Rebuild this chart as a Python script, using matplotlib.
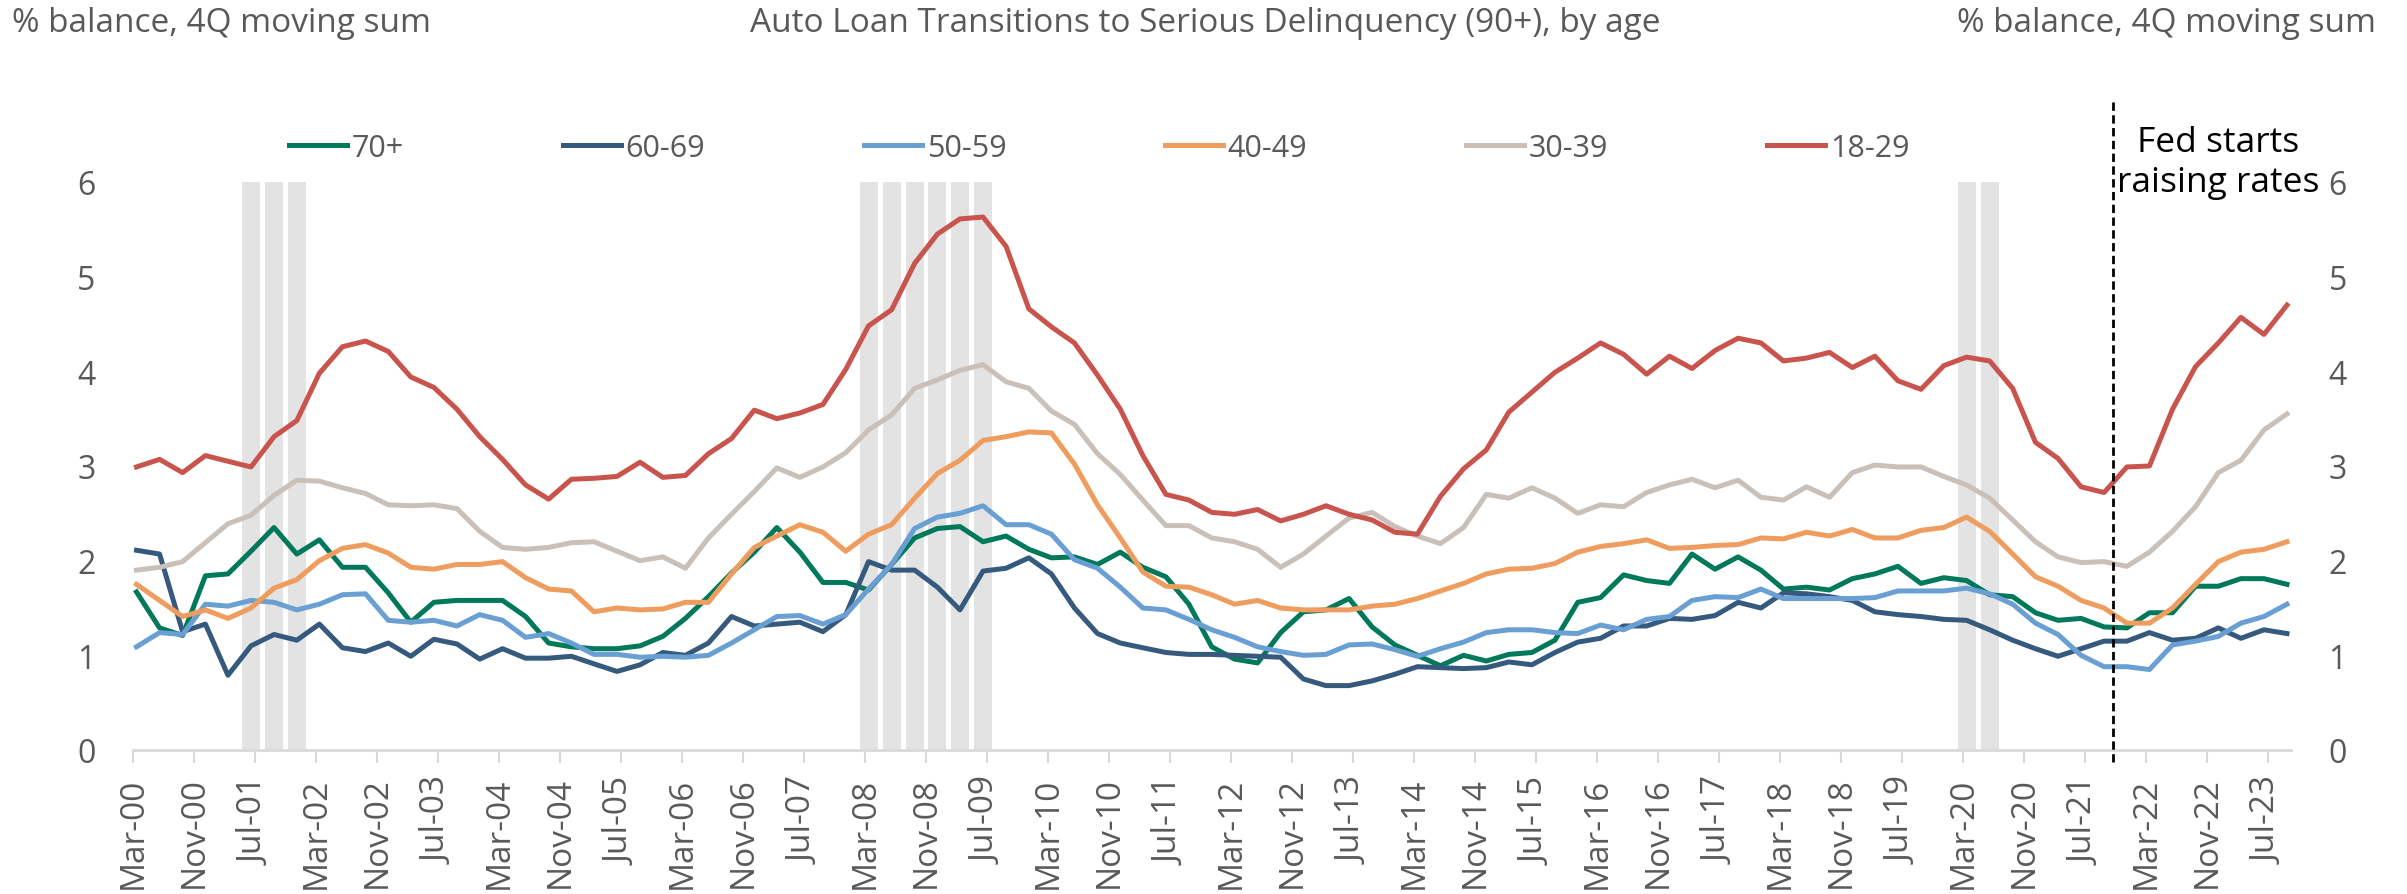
import matplotlib.pyplot as plt
import matplotlib.dates as mdates
import pandas as pd

plt.rcParams['font.family'] = ['Open Sans', 'DejaVu Sans']

# Quarterly data, Q1 2000 .. Q3 2023, % of balance (4Q moving sum)
quarters = pd.date_range('2000-03-01', '2023-09-01', freq='3MS') + pd.Timedelta(days=14)

age_70_plus = [1.67, 1.29, 1.21, 1.84, 1.86, 2.10, 2.35, 2.07, 2.22, 1.93, 1.93, 1.66, 1.35, 1.56, 1.58, 1.58,
               1.58, 1.41, 1.13, 1.09, 1.07, 1.07, 1.10, 1.20, 1.39, 1.62, 1.87, 2.09, 2.35, 2.09, 1.77, 1.77,
               1.69, 1.96, 2.24, 2.34, 2.36, 2.20, 2.26, 2.12, 2.03, 2.04, 1.96, 2.09, 1.93, 1.83, 1.54, 1.09,
               0.96, 0.92, 1.24, 1.46, 1.48, 1.60, 1.30, 1.11, 1.00, 0.89, 1.00, 0.94, 1.01, 1.03, 1.16, 1.56,
               1.61, 1.85, 1.79, 1.76, 2.07, 1.91, 2.04, 1.90, 1.70, 1.72, 1.69, 1.81, 1.86, 1.94, 1.76, 1.82,
               1.79, 1.64, 1.62, 1.45, 1.37, 1.39, 1.30, 1.29, 1.45, 1.45, 1.73, 1.73, 1.81, 1.81, 1.75]
age_60_69 = [2.11, 2.07, 1.25, 1.33, 0.79, 1.10, 1.22, 1.16, 1.33, 1.08, 1.04, 1.13, 0.99, 1.17, 1.12, 0.96,
             1.07, 0.97, 0.97, 0.99, 0.91, 0.83, 0.90, 1.03, 1.00, 1.13, 1.41, 1.31, 1.33, 1.35, 1.25, 1.43,
             1.99, 1.90, 1.90, 1.72, 1.48, 1.89, 1.92, 2.03, 1.86, 1.50, 1.23, 1.13, 1.08, 1.03, 1.01, 1.01,
             1.00, 0.99, 0.98, 0.75, 0.68, 0.68, 0.73, 0.80, 0.88, 0.87, 0.86, 0.87, 0.93, 0.90, 1.03, 1.14,
             1.18, 1.31, 1.31, 1.39, 1.38, 1.42, 1.56, 1.50, 1.66, 1.65, 1.62, 1.58, 1.46, 1.43, 1.41, 1.38,
             1.37, 1.27, 1.16, 1.07, 0.99, 1.07, 1.15, 1.15, 1.24, 1.16, 1.18, 1.29, 1.18, 1.27, 1.23]
age_50_59 = [1.09, 1.24, 1.22, 1.54, 1.52, 1.58, 1.56, 1.48, 1.54, 1.64, 1.65, 1.37, 1.35, 1.37, 1.31, 1.43,
             1.37, 1.19, 1.23, 1.13, 1.01, 1.01, 0.98, 0.99, 0.98, 1.00, 1.13, 1.27, 1.41, 1.42, 1.33, 1.43,
             1.70, 1.96, 2.34, 2.46, 2.50, 2.58, 2.38, 2.38, 2.28, 2.01, 1.92, 1.72, 1.50, 1.48, 1.38, 1.27,
             1.19, 1.09, 1.04, 1.00, 1.01, 1.11, 1.12, 1.06, 0.99, 1.07, 1.14, 1.24, 1.27, 1.27, 1.24, 1.23,
             1.32, 1.27, 1.38, 1.41, 1.58, 1.62, 1.61, 1.70, 1.60, 1.60, 1.60, 1.60, 1.61, 1.68, 1.68, 1.68,
             1.71, 1.65, 1.54, 1.34, 1.22, 1.00, 0.88, 0.88, 0.85, 1.11, 1.15, 1.20, 1.34, 1.41, 1.54]
age_40_49 = [1.75, 1.58, 1.41, 1.48, 1.39, 1.50, 1.71, 1.80, 2.00, 2.13, 2.17, 2.08, 1.93, 1.91, 1.96, 1.96,
             1.99, 1.82, 1.70, 1.68, 1.46, 1.50, 1.48, 1.49, 1.56, 1.56, 1.86, 2.14, 2.26, 2.38, 2.30, 2.10,
             2.28, 2.38, 2.66, 2.92, 3.06, 3.27, 3.31, 3.36, 3.35, 3.02, 2.59, 2.24, 1.88, 1.73, 1.72, 1.64,
             1.54, 1.58, 1.50, 1.48, 1.48, 1.48, 1.52, 1.54, 1.60, 1.68, 1.76, 1.86, 1.91, 1.92, 1.97, 2.09,
             2.15, 2.18, 2.22, 2.13, 2.14, 2.16, 2.17, 2.24, 2.23, 2.30, 2.26, 2.33, 2.24, 2.24, 2.32, 2.35,
             2.46, 2.31, 2.07, 1.83, 1.73, 1.58, 1.50, 1.34, 1.34, 1.50, 1.75, 1.99, 2.09, 2.12, 2.20]
age_30_39 = [1.90, 1.93, 1.99, 2.19, 2.39, 2.48, 2.69, 2.85, 2.84, 2.77, 2.71, 2.59, 2.58, 2.59, 2.55, 2.31,
             2.14, 2.12, 2.14, 2.19, 2.20, 2.10, 2.00, 2.04, 1.92, 2.24, 2.49, 2.73, 2.98, 2.88, 2.99, 3.14,
             3.38, 3.54, 3.82, 3.91, 4.01, 4.07, 3.89, 3.82, 3.58, 3.44, 3.13, 2.91, 2.64, 2.37, 2.37, 2.24,
             2.20, 2.12, 1.93, 2.07, 2.26, 2.45, 2.51, 2.36, 2.26, 2.18, 2.35, 2.70, 2.66, 2.77, 2.66, 2.50,
             2.59, 2.57, 2.72, 2.80, 2.86, 2.77, 2.85, 2.67, 2.64, 2.78, 2.67, 2.93, 3.01, 2.99, 2.99, 2.89,
             2.80, 2.66, 2.43, 2.20, 2.04, 1.98, 1.99, 1.94, 2.09, 2.31, 2.57, 2.93, 3.06, 3.38, 3.55]
age_18_29 = [2.99, 3.07, 2.93, 3.11, 3.05, 2.99, 3.31, 3.48, 3.98, 4.26, 4.32, 4.21, 3.94, 3.83, 3.60, 3.31,
             3.07, 2.80, 2.65, 2.86, 2.87, 2.89, 3.04, 2.88, 2.90, 3.13, 3.29, 3.59, 3.50, 3.56, 3.65, 4.02,
             4.48, 4.65, 5.14, 5.45, 5.61, 5.63, 5.32, 4.66, 4.47, 4.30, 3.96, 3.60, 3.11, 2.70, 2.64, 2.51,
             2.49, 2.54, 2.42, 2.49, 2.58, 2.49, 2.43, 2.30, 2.28, 2.68, 2.97, 3.17, 3.57, 3.78, 3.99, 4.14,
             4.30, 4.18, 3.97, 4.16, 4.03, 4.22, 4.35, 4.30, 4.11, 4.14, 4.20, 4.04, 4.16, 3.90, 3.81, 4.06,
             4.15, 4.11, 3.82, 3.25, 3.08, 2.78, 2.72, 2.99, 3.00, 3.60, 4.05, 4.30, 4.57, 4.39, 4.70]

series = [
    ("70+", age_70_plus, "#00785A"),
    ("60-69", age_60_69, "#365A7E"),
    ("50-59", age_50_59, "#6A9FD3"),
    ("40-49", age_40_49, "#EF9D5E"),
    ("30-39", age_30_39, "#C9C1B9"),
    ("18-29", age_18_29, "#C9534D"),
]

# NBER recession quarters (shaded)
recession_quarters = pd.to_datetime(['2001-06-15', '2001-09-15', '2001-12-15',
                                     '2008-03-15', '2008-06-15', '2008-09-15', '2008-12-15',
                                     '2009-03-15', '2009-06-15', '2020-03-15', '2020-06-15'])
fed_hike_date = pd.Timestamp('2021-10-20')

GREY = '#595959'

fig = plt.figure(figsize=(24.07, 8.95), dpi=100)
ax = fig.add_axes([133 / 2407, 1 - 751 / 895, (2291 - 133) / 2407, (751 - 183) / 895])

ymax = 6
ax.bar(recession_quarters, ymax, width=72, color='#E3E3E3', zorder=1)

for name, vals, col in series:
    ax.plot(quarters, vals, color=col, lw=3.6, label=name, zorder=3, solid_joinstyle='round')

# dashed marker for the first hike, running above the plot area
ax.plot([fed_hike_date, fed_hike_date], [-0.13, 6.85], color='black', lw=2,
        ls=(0, (3, 1.6)), clip_on=False, zorder=4)

ax.set_xlim(pd.Timestamp('2000-03-01'), pd.Timestamp('2023-10-01'))
ax.set_ylim(0, ymax)

xt = pd.date_range('2000-03-01', '2023-07-01', freq='8MS')
ax.set_xticks(xt)
ax.xaxis.set_major_formatter(mdates.DateFormatter('%b-%y'))
ax.tick_params(axis='x', rotation=90, labelsize=24, colors='#D9D9D9', labelcolor=GREY,
               length=9, width=1.5, pad=10)
ax.set_yticks(range(0, 7))
ax.tick_params(axis='y', length=0, labelsize=23, labelcolor=GREY, pad=27,
               labelleft=True, labelright=True)

for s in ['top', 'left', 'right']:
    ax.spines[s].set_visible(False)
ax.spines['bottom'].set_color('#D9D9D9')
ax.spines['bottom'].set_linewidth(2)

fig.text(1205 / 2407, 1 - 24 / 895, "Auto Loan Transitions to Serious Delinquency (90+), by age",
         ha='center', va='center', fontsize=24, color=GREY)
fig.text(12 / 2407, 1 - 24 / 895, "% balance, 4Q moving sum", ha='left', va='center',
         fontsize=24, color=GREY)
fig.text(2376 / 2407, 1 - 24 / 895, "% balance, 4Q moving sum", ha='right', va='center',
         fontsize=24, color=GREY)
fig.text(2218 / 2407, 1 - 163 / 895, "Fed starts\nraising rates", ha='center', va='center',
         fontsize=25.5, color='black', linespacing=1.22)

fig.legend(loc='center left', bbox_to_anchor=(289 / 2407, 1 - 149 / 895), ncol=6, frameon=False,
           fontsize=22, labelcolor=GREY, handlelength=1.9, handletextpad=0.15,
           columnspacing=5.2, borderpad=0, borderaxespad=0)

fig.savefig('out.png', dpi=100)
